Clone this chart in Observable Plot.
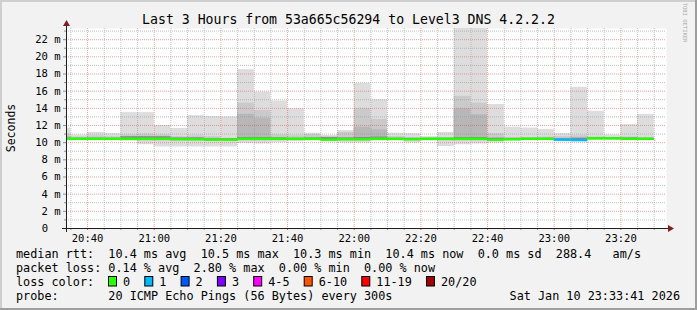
<!DOCTYPE html>
<html><head><meta charset="utf-8">
<script src="https://cdn.jsdelivr.net/npm/d3@7"></script>
<script src="https://cdn.jsdelivr.net/npm/@observablehq/plot@0.6"></script>
<style>
html,body{margin:0;padding:0;background:#f2f2f2;}
#chart{position:relative;width:697px;height:310px;}
svg text.pre{white-space:pre;}
</style></head><body><div id="chart"></div>
<script>
// ---------- data ----------
const day = [2026, 0, 10];
const rangeStart = "20:33:41";
const rangeEnd = "23:33:41";
const stepStart = ["20:30","20:35","20:40","20:45","20:50","20:55","21:00","21:05","21:10","21:15","21:20","21:25",
  "21:30","21:35","21:40","21:45","21:50","21:55","22:00","22:05","22:10","22:15","22:20","22:25",
  "22:30","22:35","22:40","22:45","22:50","22:55","23:00","23:05","23:10","23:15","23:20","23:25"];
const median = [10.45,10.45,10.45,10.45,10.45,10.45,10.45,10.4,10.4,10.35,10.35,10.45,
  10.45,10.45,10.45,10.45,10.35,10.4,10.4,10.45,10.45,10.4,10.45,10.45,
  10.45,10.45,10.35,10.4,10.45,10.45,10.35,10.3,10.5,10.5,10.45,10.45];
const lossCount = [0,0,0,0,0,0,0,0,0,0,0,0, 0,0,0,0,0,0,0,0,0,0,0,0, 0,0,0,0,0,0,1,1,0,0,0,0];
const outerHi = [11.7,10.9,11.2,11.05,13.5,13.5,12.0,11.65,13.15,13.05,13.0,18.5,
  15.9,14.85,13.95,11.1,10.85,11.4,16.9,15.0,11.1,11.05,10.7,11.2,
  30,30,14.45,11.8,11.7,11.55,11.05,16.45,13.65,10.9,12.1,13.3];
const outerLo = [10.2,10.25,10.25,10.25,10.2,9.75,9.5,9.5,9.5,9.5,9.5,9.9,
  9.85,10.0,10.1,10.2,10.1,9.95,9.95,10.2,10.2,9.95,10.2,9.55,
  9.75,9.85,9.95,10.2,10.25,10.25,10.15,10.15,10.3,10.3,10.25,10.25];
const midHi = [11.0,10.65,10.8,10.7,10.9,11.0,10.9,10.7,10.8,10.7,10.5,14.6,
  13.75,10.9,10.8,10.95,10.7,11.2,13.95,12.7,10.7,10.6,10.55,10.6,
  15.4,14.6,11.05,10.6,10.6,10.65,10.7,10.8,10.65,10.6,10.65,10.6];
const midLo = [10.3,10.3,10.3,10.3,10.3,10.2,10.2,10.2,10.2,10.2,10.2,10.2,
  10.2,10.25,10.25,10.3,10.2,10.2,10.2,10.3,10.3,10.25,10.3,10.2,
  10.2,10.2,10.2,10.3,10.3,10.3,10.2,10.2,10.35,10.35,10.3,10.3];
const innerHi = [10.7,10.55,10.6,10.55,10.65,10.7,10.6,10.55,10.6,10.5,10.45,13.3,
  12.85,10.6,10.55,10.6,10.55,10.6,11.8,11.5,10.55,10.5,10.5,10.5,
  13.95,13.25,10.6,10.5,10.5,10.55,10.5,10.6,10.55,10.55,10.55,10.5];
const innerLo = [10.35,10.35,10.35,10.35,10.35,10.3,10.3,10.3,10.3,10.25,10.25,10.3,
  10.3,10.3,10.3,10.35,10.25,10.3,10.3,10.35,10.35,10.3,10.35,10.3,
  10.3,10.3,10.25,10.3,10.35,10.35,10.25,10.2,10.4,10.4,10.35,10.35];
const coreHi = [10.55,10.5,10.5,10.5,10.7,10.7,10.7,10.55,10.55,10.45,10.45,10.6,
  10.6,10.55,10.5,10.55,10.6,10.55,10.6,10.65,10.5,10.5,10.5,10.5,
  10.6,10.6,10.5,10.5,10.5,10.5,10.45,10.5,10.6,10.6,10.55,10.5];
const yMax = 23.3;
const yMajorTicks = [2,4,6,8,10,12,14,16,18,20,22];
const yMinorTicks = [1,3,5,7,9,11,13,15,17,19,21,23];
const xTickLabels = ["20:40","21:00","21:20","21:40","22:00","22:20","22:40","23:00","23:20"];
const lossLabels = ["0","1","2","3","4-5","6-10","11-19","20/20"];
const lossColors = ["#26ff00","#00b8ff","#0059ff","#7e00ff","#ff00ff","#ff5500","#ff0000","#a00000"];
const smokeColors = ["#dddddd","#cacaca","#b7b7b7","#8c8c8c"];
const titleText = "Last 3 Hours from 53a665c56294 to Level3 DNS 4.2.2.2";
const yLabel = "Seconds";
const legendRtt = "median rtt:  10.4 ms avg  10.5 ms max  10.3 ms min  10.4 ms now  0.0 ms sd  288.4   am/s";
const legendLoss = "packet loss: 0.14 % avg  2.80 % max  0.00 % min  0.00 % now";
const legendColorLabel = "loss color:";
const legendProbe = "probe:       20 ICMP Echo Pings (56 Bytes) every 300s";
const legendDate = "Sat Jan 10 23:33:41 2026";
const watermark = "RRDTOOL / TOBI OETIKER";

// ---------- build ----------
const toDate = s => { const [h,m,sec] = s.split(":").map(Number); return new Date(Date.UTC(day[0], day[1], day[2], h, m, sec || 0)); };
const start = toDate(rangeStart), end = toDate(rangeEnd);
const rows = stepStart.map((s, i) => {
  const t0 = toDate(s);
  return {t0, t1: new Date(t0.getTime() + 300000), med: median[i], loss: lossColors[lossCount[i]],
    oLo: outerLo[i], oHi: outerHi[i], mLo: midLo[i], mHi: midHi[i], iLo: innerLo[i], iHi: innerHi[i], cHi: coreHi[i]};
});
const majorTimes = xTickLabels.map(toDate);
const minorTimes = d3.utcMinute.every(5).range(start, end).filter(d => d.getUTCMinutes() % 20 !== 0);
const font = "DejaVu Sans Mono";

const svg = Plot.plot({
  width: 697, height: 310,
  marginLeft: 66, marginRight: 31, marginTop: 28, marginBottom: 82,
  style: {background: "#f2f2f2", fontFamily: font, fontSize: "10.5px", color: "#000", overflow: "visible"},
  x: {type: "utc", domain: [start, end]},
  y: {domain: [0, yMax]},
  color: {type: "identity"},
  marks: [
    Plot.frame({fill: "white", stroke: null}),
    Plot.rect(rows, {x1: "t0", x2: "t1", y1: "oLo", y2: "oHi", fill: smokeColors[0], clip: true}),
    Plot.rect(rows, {x1: "t0", x2: "t1", y1: "mLo", y2: "mHi", fill: smokeColors[1], clip: true}),
    Plot.rect(rows, {x1: "t0", x2: "t1", y1: "iLo", y2: "iHi", fill: smokeColors[2], clip: true}),
    Plot.rect(rows, {x1: "t0", x2: "t1", y1: "med", y2: "cHi", fill: smokeColors[3], clip: true}),
    Plot.ruleX(minorTimes, {stroke: "#8f8f8f", strokeOpacity: 0.55, strokeDasharray: "1,1"}),
    Plot.ruleY(yMinorTicks, {stroke: "#8f8f8f", strokeOpacity: 0.55, strokeDasharray: "1,1"}),
    Plot.ruleX(majorTimes, {stroke: "#de4f4f", strokeOpacity: 0.5, strokeDasharray: "1,1"}),
    Plot.ruleY(yMajorTicks, {stroke: "#de4f4f", strokeOpacity: 0.5, strokeDasharray: "1,1"}),
    Plot.ruleY(rows, {y: "med", x1: "t0", x2: "t1", stroke: "loss", strokeWidth: 2.5, clip: true}),
    Plot.axisY({ticks: yMajorTicks, tickFormat: d => d + " m", tickSize: 3, tickPadding: 3, stroke: "#8f8f8f", fill: "#000"}),
    Plot.axisY({ticks: yMinorTicks, tickFormat: () => "", tickSize: 2, stroke: "#8f8f8f"}),
    Plot.axisY({ticks: [0], tickFormat: d => String(d), tickSize: 0, tickPadding: 18.5, fill: "#000"}),
    Plot.axisX({ticks: majorTimes, tickFormat: d3.utcFormat("%H:%M"), tickSize: 2, tickPadding: 4, stroke: "#de4f4f", fill: "#000"}),
    Plot.axisX({ticks: minorTimes, tickFormat: () => "", tickSize: 2, stroke: "#8f8f8f"})
  ]
});
document.getElementById("chart").appendChild(svg);

const xs = svg.scale("x"), ys = svg.scale("y");
const X0 = xs.apply(start), X1 = xs.apply(end), Y0 = ys.apply(0), Y1 = ys.apply(yMax);
const g = d3.select(svg).append("g").attr("font-family", font);

// border shading
g.append("rect").attr("x", 0).attr("y", 0).attr("width", 697).attr("height", 2).attr("fill", "#cfcfcf");
g.append("rect").attr("x", 0).attr("y", 0).attr("width", 2).attr("height", 310).attr("fill", "#cfcfcf");
g.append("rect").attr("x", 0).attr("y", 308).attr("width", 697).attr("height", 2).attr("fill", "#9e9e9e");
g.append("rect").attr("x", 695).attr("y", 0).attr("width", 2).attr("height", 310).attr("fill", "#9e9e9e");

// axes + arrows
g.append("line").attr("x1", X0 - 4).attr("x2", X1 + 4).attr("y1", Y0 + 0.5).attr("y2", Y0 + 0.5).attr("stroke", "#1f1f1f");
g.append("line").attr("x1", X0 + 0.5).attr("x2", X0 + 0.5).attr("y1", Y0 + 4).attr("y2", Y1 - 4).attr("stroke", "#1f1f1f");
g.append("path").attr("d", `M${X1 + 2},${Y0 - 3}L${X1 + 2},${Y0 + 4}L${X1 + 8},${Y0 + 0.5}Z`).attr("fill", "#801f1f");
g.append("path").attr("d", `M${X0 - 3},${Y1 - 2}L${X0 + 4},${Y1 - 2}L${X0 + 0.5},${Y1 - 8}Z`).attr("fill", "#801f1f");

// title
g.append("text").attr("x", 348.5).attr("y", 24).attr("text-anchor", "middle").attr("font-size", "13.2px").attr("fill", "#000").text(titleText);
// y label
g.append("text").attr("transform", "translate(14.5,128) rotate(-90)").attr("text-anchor", "middle").attr("font-size", "11.5px").attr("fill", "#000").text(yLabel);
// watermark
g.append("text").attr("transform", "translate(683,6) rotate(90)").attr("font-size", "5.5px").attr("fill", "#aaaaaa").text(watermark);

// legend
const lf = "11.8px", cw = 7.1;
const addLine = (txt, x, y, anchor) => g.append("text").attr("class", "pre").attr("xml:space", "preserve")
  .attr("x", x).attr("y", y).attr("font-size", lf).attr("fill", "#000").attr("text-anchor", anchor || "start").text(txt);
addLine(legendRtt, 16, 258);
addLine(legendLoss, 16, 272);
addLine(legendColorLabel, 16, 286);
addLine(legendProbe, 16, 300);
addLine(legendDate, 680, 300, "end");
let lx = 108;
lossLabels.forEach((lab, i) => {
  g.append("rect").attr("x", lx + 0.5).attr("y", 276.5).attr("width", 8).attr("height", 9.5)
    .attr("fill", lossColors[i]).attr("stroke", "#000").attr("stroke-width", 1);
  addLine(lab, lx + 15, 286);
  lx += 15 + lab.length * cw + 2 * cw;
});
</script></body></html>
